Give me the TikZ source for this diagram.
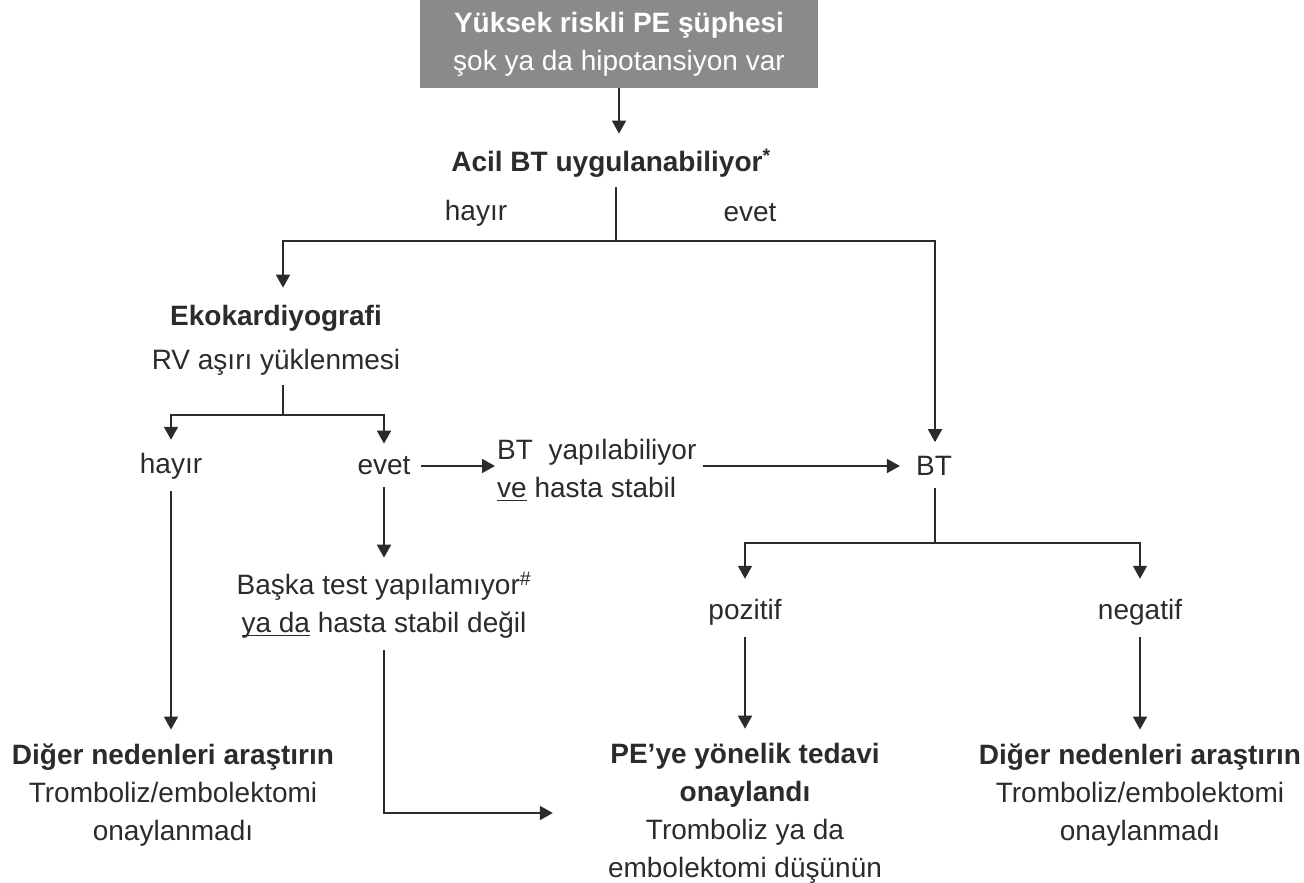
\documentclass[tikz,border=0pt]{standalone}
\usepackage{fontspec}
\setmainfont{Liberation Sans}
\usetikzlibrary{arrows.meta}
\definecolor{ink}{HTML}{2B2B2B}
\definecolor{boxgray}{HTML}{8A8A8A}
\newcommand\myul[1]{\setbox0\hbox{#1}\rlap{\color{ink}\rule[-4pt]{\wd0}{1.5pt}}\box0\relax}
\begin{document}
\begin{tikzpicture}[x=1pt,y=-1pt,
  txt/.style={font=\fontsize{28}{38}\selectfont, text=ink, inner sep=0pt, align=center},
  line/.style={draw=ink, line width=1.8pt},
  arr/.style={line, -{Triangle[length=13pt,width=14pt]}},
]
\useasboundingbox (0,0) rectangle (1304,883);
% nodes
\node[txt, fill=boxgray, text=white, minimum width=398pt, minimum height=88pt] (title) at (619,44)
  {\textbf{Yüksek riskli PE şüphesi}\\şok ya da hipotansiyon var};
\node[txt, font=\fontsize{28}{38}\selectfont\bfseries] (acil) at (611,163) {Acil BT uygulanabiliyor\textsuperscript{*}};
\node[txt] (hayirA) at (476,213) {hayır};
\node[txt] (evetA) at (750,213) {evet};
\node[txt] (eko) at (276,340) {\textbf{Ekokardiyografi}\\[6pt]RV aşırı yüklenmesi};
\node[txt] (hayirB) at (171,466) {hayır};
\node[txt] (evetB) at (384,466) {evet};
\node[txt, align=left, anchor=west] (btyap) at (497,470) {BT~~yapılabiliyor\\\myul{ve} hasta stabil};
\node[txt] (bt) at (934,466) {BT};
\node[txt] (baska) at (384,605) {Başka test yapılamıyor\textsuperscript{\#}\\\myul{ya da} hasta stabil değil};
\node[txt] (poz) at (745,612) {pozitif};
\node[txt] (neg) at (1140,612) {negatif};
\node[txt] (res1) at (173,795) {\textbf{Diğer nedenleri araştırın}\\Tromboliz/embolektomi\\onaylanmadı};
\node[txt] (res2) at (745,813) {\textbf{PE’ye yönelik tedavi}\\\textbf{onaylandı}\\Tromboliz ya da\\embolektomi düşünün};
\node[txt] (res3) at (1140,795) {\textbf{Diğer nedenleri araştırın}\\Tromboliz/embolektomi\\onaylanmadı};
% junctions
\coordinate (jA) at (616,241);
\coordinate (jB) at (283,415);
\coordinate (jC) at (935,543);
% connectors
\draw[arr, shorten >=15pt] (title.south) -- (title.south |- acil.north);
\draw[line, shorten <=10pt] (acil.south -| jA) -- (jA);
\draw[arr, shorten >=17pt] (jA) -| (eko.north -| jB);
\draw[arr, shorten >=14pt] (jA) -| (bt.north -| jC);
\draw[line, shorten <=10pt] (eko.south -| jB) -- (jB);
\draw[arr, shorten >=13pt] (jB) -| (hayirB.north);
\draw[arr, shorten >=13pt] (jB) -| (evetB.north);
\draw[arr, shorten <=10pt, shorten >=2pt] (evetB.east) -- (evetB.east -| btyap.west);
\draw[arr, shorten <=6pt, shorten >=16pt] (bt.west -| btyap.east) -- (bt.west);
\draw[line, shorten <=12pt] (bt.south -| jC) -- (jC);
\draw[arr, shorten >=20pt] (jC) -| (poz.north);
\draw[arr, shorten >=20pt] (jC) -| (neg.north);
\draw[arr, shorten <=12pt, shorten >=14pt] (hayirB.south) -- (hayirB.south |- res1.north);
\draw[arr, shorten <=12pt, shorten >=14pt] (evetB.south) -- (baska.north);
\draw[arr, shorten <=12pt, shorten >=14pt] (poz.south) -- (res2.north);
\draw[arr, shorten <=12pt, shorten >=14pt] (neg.south) -- (res3.north);
\draw[arr, shorten <=12pt, shorten >=55pt] (baska.south) |- (res2.west);
\end{tikzpicture}
\end{document}
